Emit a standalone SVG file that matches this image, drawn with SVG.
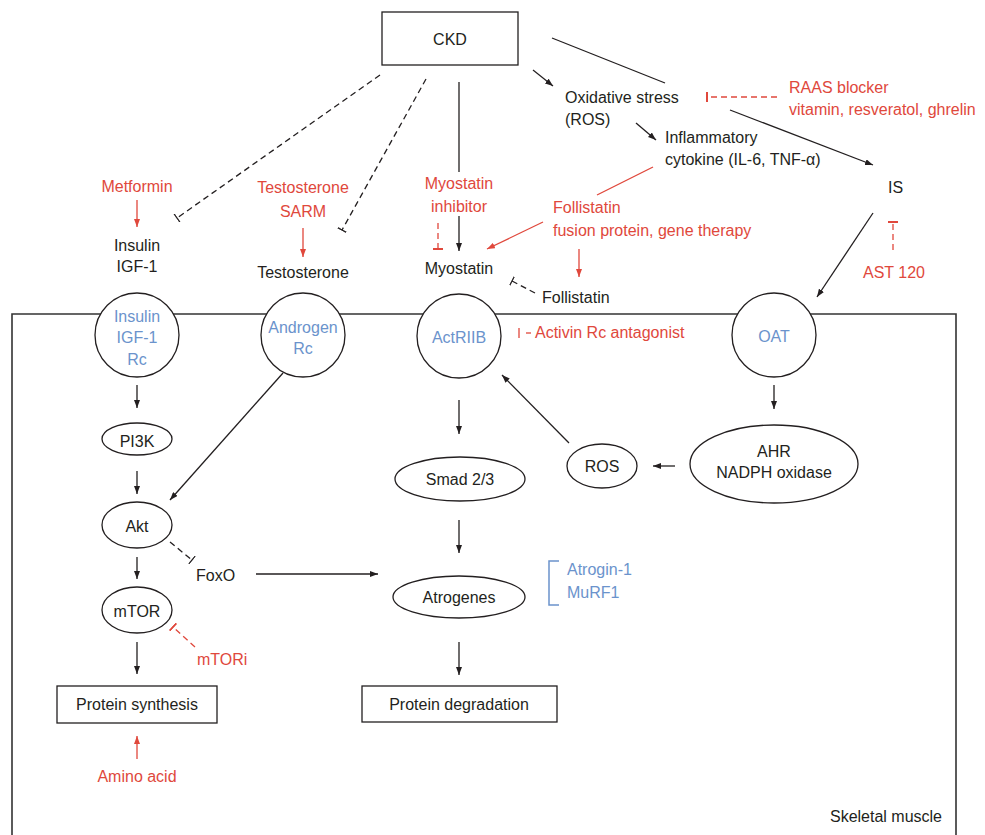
<svg xmlns="http://www.w3.org/2000/svg" width="985" height="835" viewBox="0 0 985 835">
<style>
.t{font-family:"Liberation Sans",Arial,sans-serif;font-size:16px;fill:#231f20}
.m{text-anchor:middle}
.r{fill:#e0483c}
.b{fill:#6b93cc}
.ln{stroke:#231f20;stroke-width:1.3;fill:none}
.rl{stroke:#e0483c;stroke-width:1.3;fill:none}
.d{stroke-dasharray:6 4}
.shape{fill:#fff;stroke:#231f20;stroke-width:1.3}
</style>
<defs>
<marker id="ah" viewBox="0 0 8 6" refX="8" refY="3" markerWidth="8" markerHeight="6" markerUnits="userSpaceOnUse" orient="auto"><path d="M0,0 L8,3 L0,6 z" fill="#231f20"/></marker>
<marker id="ahr" viewBox="0 0 8 6" refX="8" refY="3" markerWidth="8" markerHeight="6" markerUnits="userSpaceOnUse" orient="auto"><path d="M0,0 L8,3 L0,6 z" fill="#e0483c"/></marker>
<marker id="tb" viewBox="0 0 2 10" refX="1" refY="5" markerWidth="2" markerHeight="10" markerUnits="userSpaceOnUse" orient="auto"><path d="M1,0 V10" stroke="#231f20" stroke-width="1.3" stroke-dasharray="none"/></marker>
<marker id="tbr" viewBox="0 0 2 10" refX="1" refY="5" markerWidth="2" markerHeight="10" markerUnits="userSpaceOnUse" orient="auto"><path d="M1,0 V10" stroke="#e0483c" stroke-width="2" stroke-dasharray="none"/></marker>
</defs>

<g id="skeletal-muscle">
<path d="M12,840 V314 H956 V840" fill="none" stroke="#333" stroke-width="1.6"/>
<text class="t" x="942" y="822" text-anchor="end">Skeletal muscle</text>
</g>

<g id="connectors">
<!-- CKD to IS -->
<line class="ln" x1="552" y1="38" x2="665" y2="83"/>
<line class="ln" x1="730" y1="110" x2="873" y2="165" marker-end="url(#ah)"/>
<!-- CKD to oxidative stress -->
<line class="ln" x1="533" y1="70" x2="553" y2="86" marker-end="url(#ah)"/>
<!-- oxidative stress to cytokine -->
<line class="ln" x1="636" y1="123" x2="656" y2="140" marker-end="url(#ah)"/>
<!-- CKD dashed inhibitions -->
<line class="ln d" x1="380" y1="75" x2="177" y2="218" marker-end="url(#tb)"/>
<line class="ln d" x1="426" y1="79" x2="342" y2="230" marker-end="url(#tb)"/>
<!-- CKD to Myostatin -->
<line class="ln" x1="459" y1="82" x2="459" y2="172"/>
<line class="ln" x1="459" y1="216" x2="459" y2="251" marker-end="url(#ah)"/>
<!-- red drug arrows -->
<line class="rl" x1="137" y1="200" x2="137" y2="227" marker-end="url(#ahr)"/>
<line class="rl" x1="303" y1="228" x2="303" y2="257" marker-end="url(#ahr)"/>
<line class="rl d" x1="438" y1="223" x2="438" y2="249" stroke-dasharray="5 4" marker-end="url(#tbr)"/>
<!-- cytokine to myostatin (red) -->
<line class="rl" x1="653" y1="167" x2="597" y2="195"/>
<line class="rl" x1="543" y1="222" x2="487" y2="249" marker-end="url(#ahr)"/>
<line class="rl" x1="579" y1="249" x2="579" y2="277" marker-end="url(#ahr)"/>
<!-- follistatin inhibits myostatin -->
<line class="ln d" x1="535" y1="293" x2="512" y2="281" stroke-dasharray="5 4" marker-end="url(#tb)"/>
<!-- RAAS blocker -->
<line class="rl d" x1="777" y1="97" x2="707" y2="97" marker-end="url(#tbr)"/>
<!-- AST 120 -->
<line class="rl d" x1="893" y1="250" x2="893" y2="222" stroke-dasharray="6 4" marker-end="url(#tbr)"/>
<!-- IS to OAT -->
<line class="ln" x1="873" y1="213" x2="817" y2="297" marker-end="url(#ah)"/>
<!-- Activin Rc antagonist -->
<line class="rl" x1="519" y1="328" x2="519" y2="338" stroke-width="2"/>
<line class="rl" x1="526" y1="333" x2="531" y2="333"/>
<!-- left pathway -->
<line class="ln" x1="137" y1="385" x2="137" y2="408" marker-end="url(#ah)"/>
<line class="ln" x1="137" y1="471" x2="137" y2="494" marker-end="url(#ah)"/>
<line class="ln" x1="283" y1="373" x2="170" y2="500" marker-end="url(#ah)"/>
<line class="ln d" x1="170" y1="542" x2="192" y2="560" stroke-dasharray="5 4" marker-end="url(#tb)"/>
<line class="ln" x1="137" y1="557" x2="137" y2="579" marker-end="url(#ah)"/>
<line class="rl d" x1="195" y1="647" x2="173" y2="627" stroke-dasharray="5 4" marker-end="url(#tbr)"/>
<line class="ln" x1="137" y1="642" x2="137" y2="674" marker-end="url(#ah)"/>
<line class="rl" x1="137" y1="759" x2="137" y2="736" marker-end="url(#ahr)"/>
<line class="ln" x1="256" y1="574" x2="378" y2="574" marker-end="url(#ah)"/>
<!-- middle pathway -->
<line class="ln" x1="459" y1="400" x2="459" y2="434" marker-end="url(#ah)"/>
<line class="ln" x1="459" y1="520" x2="459" y2="553" marker-end="url(#ah)"/>
<line class="ln" x1="459" y1="642" x2="459" y2="675" marker-end="url(#ah)"/>
<line class="ln" x1="569" y1="443" x2="502" y2="375" marker-end="url(#ah)"/>
<!-- right pathway -->
<line class="ln" x1="774" y1="385" x2="774" y2="409" marker-end="url(#ah)"/>
<line class="ln" x1="675" y1="466" x2="653" y2="466" marker-end="url(#ah)"/>
<!-- atrogenes bracket -->
<path d="M559,561 H549 V605 H559" fill="none" stroke="#6b93cc" stroke-width="1.5"/>
</g>

<g id="ckd">
<rect class="shape" x="382" y="12" width="136" height="53"/>
<text class="t m" x="450" y="45">CKD</text>
</g>
<g id="oxidative-stress"><text class="t" x="565" y="103">Oxidative stress</text><text class="t" x="565" y="125">(ROS)</text></g>
<g id="inflammatory-cytokine"><text class="t" x="665" y="143">Inflammatory</text><text class="t" x="665" y="165">cytokine (IL-6, TNF-α)</text></g>
<g id="raas-blocker"><text class="t r" x="789" y="93">RAAS blocker</text><text class="t r" x="789" y="115">vitamin, resveratol, ghrelin</text></g>
<g id="is"><text class="t" x="888" y="193">IS</text></g>
<g id="ast120"><text class="t r m" x="894" y="278">AST 120</text></g>
<g id="metformin"><text class="t r m" x="137" y="192">Metformin</text></g>
<g id="insulin"><text class="t m" x="137" y="251">Insulin</text><text class="t m" x="137" y="272">IGF-1</text></g>
<g id="testosterone-sarm"><text class="t r m" x="303" y="193">Testosterone</text><text class="t r m" x="303" y="217">SARM</text></g>
<g id="testosterone"><text class="t m" x="303" y="278">Testosterone</text></g>
<g id="myostatin-inhibitor"><text class="t r m" x="459" y="189">Myostatin</text><text class="t r m" x="459" y="212">inhibitor</text></g>
<g id="myostatin"><text class="t m" x="459" y="274">Myostatin</text></g>
<g id="follistatin-therapy"><text class="t r" x="553" y="213">Follistatin</text><text class="t r" x="553" y="236">fusion protein, gene therapy</text></g>
<g id="follistatin"><text class="t" x="542" y="303">Follistatin</text></g>

<g id="insulin-rc">
<circle class="shape" cx="137" cy="335" r="42"/>
<text class="t b m" x="137" y="322">Insulin</text><text class="t b m" x="137" y="343">IGF-1</text><text class="t b m" x="137" y="365">Rc</text>
</g>
<g id="androgen-rc">
<circle class="shape" cx="303" cy="335" r="42"/>
<text class="t b m" x="303" y="333">Androgen</text><text class="t b m" x="303" y="354">Rc</text>
</g>
<g id="actriib">
<circle class="shape" cx="459" cy="336" r="42"/>
<text class="t b m" x="459" y="343">ActRIIB</text>
</g>
<g id="activin-antagonist"><text class="t r" x="535" y="338">Activin Rc antagonist</text></g>
<g id="oat">
<circle class="shape" cx="774" cy="335" r="42"/>
<text class="t b m" x="774" y="342">OAT</text>
</g>

<g id="pi3k"><ellipse class="shape" cx="137" cy="439" rx="35" ry="16"/><text class="t m" x="137" y="447">PI3K</text></g>
<g id="akt"><ellipse class="shape" cx="137" cy="525" rx="35" ry="23"/><text class="t m" x="137" y="532">Akt</text></g>
<g id="foxo"><text class="t" x="196" y="581">FoxO</text></g>
<g id="mtor"><ellipse class="shape" cx="137" cy="610" rx="35" ry="23"/><text class="t m" x="137" y="617">mTOR</text></g>
<g id="mtori"><text class="t r" x="197" y="665">mTORi</text></g>
<g id="protein-synthesis"><rect class="shape" x="57" y="686" width="160" height="37"/><text class="t m" x="137" y="710">Protein synthesis</text></g>
<g id="amino-acid"><text class="t r m" x="137" y="782">Amino acid</text></g>

<g id="smad"><ellipse class="shape" cx="460" cy="479" rx="65" ry="22"/><text class="t m" x="460" y="485">Smad 2/3</text></g>
<g id="atrogenes"><ellipse class="shape" cx="459" cy="597" rx="66" ry="21"/><text class="t m" x="459" y="603">Atrogenes</text></g>
<g id="atrogin"><text class="t b" x="567" y="575">Atrogin-1</text><text class="t b" x="567" y="598">MuRF1</text></g>
<g id="protein-degradation"><rect class="shape" x="362" y="686" width="195" height="36"/><text class="t m" x="459" y="710">Protein degradation</text></g>

<g id="ros"><ellipse class="shape" cx="602" cy="466" rx="35" ry="22"/><text class="t m" x="602" y="472">ROS</text></g>
<g id="ahr"><ellipse class="shape" cx="774" cy="464" rx="84" ry="39"/><text class="t m" x="774" y="457">AHR</text><text class="t m" x="774" y="478">NADPH oxidase</text></g>
</svg>
